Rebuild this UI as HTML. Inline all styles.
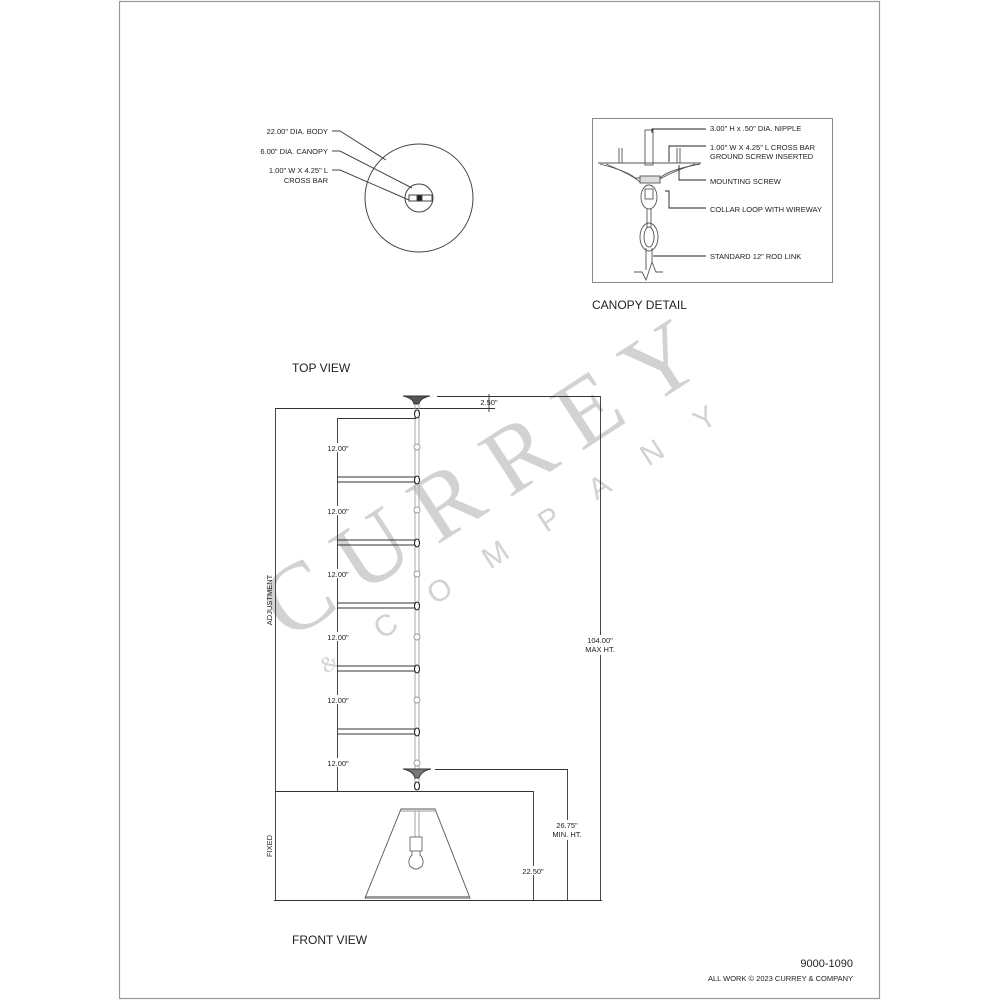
<!DOCTYPE html>
<html><head><meta charset="utf-8"><style>
html,body{margin:0;padding:0;background:#fff;}
svg{display:block;}
text{font-family:"Liberation Sans",sans-serif;fill:#222;}
</style></head><body>
<svg width="1000" height="1000" viewBox="0 0 1000 1000" xmlns="http://www.w3.org/2000/svg">
<rect x="0" y="0" width="1000" height="1000" fill="#fff"/>
<rect x="119.5" y="1.5" width="760" height="997" fill="none" stroke="#999" stroke-width="1.2"/>

<!-- watermark -->
<g>
<text x="0" y="0" transform="translate(288,642) rotate(-33)" style="font-family:'Liberation Serif',serif;font-size:96px;letter-spacing:22px;fill:#d2d2d2">CURREY</text>
<text x="0" y="0" transform="translate(382,640) rotate(-33)" style="font-family:'Liberation Sans',sans-serif;font-size:30px;letter-spacing:42px;fill:#d2d2d2">COMPANY</text>
<text x="0" y="0" transform="translate(326,674) rotate(-33)" style="font-family:'Liberation Serif',serif;font-size:22px;fill:#d2d2d2">&amp;</text>
</g>

<!-- TOP VIEW -->
<g stroke="#444" fill="none" stroke-width="1">
<circle cx="419" cy="198" r="54"/>
<circle cx="419" cy="198" r="14"/>
<rect x="409" y="195" width="23" height="6"/>
<rect x="417" y="195" width="5" height="6" fill="#222"/>
<polyline points="332,131 340,131 386,160"/>
<polyline points="332,151 340,151 412,188"/>
<polyline points="332,170 340,170 409,200"/>
</g>
<g font-size="7.5" text-anchor="end">
<text x="328" y="134">22.00" DIA. BODY</text>
<text x="328" y="154">6.00" DIA. CANOPY</text>
<text x="328" y="173">1.00" W X 4.25" L</text>
<text x="328" y="183">CROSS BAR</text>
</g>
<text x="292" y="372" font-size="12">TOP VIEW</text>

<!-- CANOPY DETAIL -->
<rect x="592.5" y="118.5" width="240" height="164" fill="none" stroke="#888" stroke-width="1"/>
<g stroke="#555" fill="none" stroke-width="0.9">
<rect x="645" y="130" width="8" height="35"/>
<line x1="598" y1="163" x2="701" y2="163"/>
<path d="M600,164 Q630,172 635,178 L660,178 Q668,170 700,164"/>
<path d="M606,164 Q632,175 640,182 L656,182 Q664,175 695,164"/>
<line x1="619" y1="148" x2="619" y2="163"/><line x1="622" y1="148" x2="622" y2="163"/>
<line x1="677" y1="148" x2="677" y2="163"/><line x1="680" y1="148" x2="680" y2="163"/>
<rect x="640" y="176" width="20" height="7" fill="#ddd"/>
<ellipse cx="649" cy="197" rx="8" ry="12"/>
<rect x="645" y="189" width="8" height="10"/>
<line x1="647" y1="209" x2="647" y2="228"/><line x1="651" y1="209" x2="651" y2="228"/>
<ellipse cx="649" cy="237" rx="9" ry="14"/>
<ellipse cx="649" cy="237" rx="5" ry="10"/>
<line x1="646" y1="248" x2="646" y2="270"/><line x1="652" y1="248" x2="652" y2="262"/>
<path d="M634,272 L642,272 L646,280 L652,262 L656,272 L663,272"/>
</g>
<g stroke="#222" fill="none" stroke-width="0.9">
<polyline points="652,133 652,129 706,129"/>
<polyline points="669,162 669,146 706,146"/>
<polyline points="679,165 679,180 706,180"/>
<polyline points="665,191 669,191 669,208 706,208"/>
<polyline points="653,256 706,256"/>
</g>
<g font-size="7.5">
<text x="710" y="131">3.00" H x .50" DIA. NIPPLE</text>
<text x="710" y="150">1.00" W X 4.25" L CROSS BAR</text>
<text x="710" y="159">GROUND SCREW INSERTED</text>
<text x="710" y="184">MOUNTING SCREW</text>
<text x="710" y="212">COLLAR LOOP WITH WIREWAY</text>
<text x="710" y="259">STANDARD 12" ROD LINK</text>
</g>
<text x="592" y="309" font-size="12">CANOPY DETAIL</text>

<!-- FRONT VIEW -->
<g stroke="#333" fill="none" stroke-width="0.9">
<path d="M403,396 L430,396 Q420,398 419,404 L414,404 Q413,398 403,396 Z" fill="#555"/>
<line x1="437" y1="396.5" x2="600" y2="396.5"/>
<line x1="275" y1="408.5" x2="495" y2="408.5"/>
<line x1="489" y1="394" x2="489" y2="412"/>
<line x1="275.5" y1="408" x2="275.5" y2="900"/>
<line x1="600.5" y1="396" x2="600.5" y2="900"/>
<line x1="274" y1="900.5" x2="602" y2="900.5"/>
<line x1="415" y1="404" x2="415" y2="790" stroke="#aaa" stroke-width="1"/>
<line x1="419" y1="404" x2="419" y2="790" stroke="#aaa" stroke-width="1"/>
<line x1="337.5" y1="418" x2="337.5" y2="791"/>
<line x1="337" y1="418.5" x2="416" y2="418.5"/>
<line x1="337" y1="477" x2="416" y2="477"/><line x1="337" y1="482" x2="416" y2="482"/>
<line x1="337" y1="540" x2="416" y2="540"/><line x1="337" y1="545" x2="416" y2="545"/>
<line x1="337" y1="603" x2="416" y2="603"/><line x1="337" y1="608" x2="416" y2="608"/>
<line x1="337" y1="666" x2="416" y2="666"/><line x1="337" y1="671" x2="416" y2="671"/>
<line x1="337" y1="729" x2="416" y2="729"/><line x1="337" y1="734" x2="416" y2="734"/>
<path d="M403,769 L431,769 Q421,771 419,778 L415,778 Q413,771 403,769 Z" fill="#777"/>
<line x1="435" y1="769.5" x2="567" y2="769.5"/>
<line x1="567.5" y1="769" x2="567.5" y2="900"/>
<line x1="275" y1="791.5" x2="533" y2="791.5"/>
<line x1="533.5" y1="791" x2="533.5" y2="900"/>
<path d="M401,809 L435,809 L470,898 L365,898 Z" stroke="#555"/>
<line x1="401" y1="811" x2="435" y2="811" stroke="#999"/>
<line x1="366" y1="897" x2="469" y2="897" stroke="#999" stroke-width="2"/>
<line x1="415" y1="811" x2="415" y2="837" stroke="#999"/>
<line x1="419" y1="811" x2="419" y2="837" stroke="#999"/>
<rect x="410" y="837" width="12" height="14" stroke="#666"/>
<path d="M412,851 L412,855 Q407,860 410,866 Q416,872 422,866 Q425,860 420,855 L420,851" stroke="#666"/>
</g>
<g stroke="#222" fill="#fff" stroke-width="1.1">
<ellipse cx="417" cy="414" rx="2.5" ry="4"/>
<ellipse cx="417" cy="480" rx="2.5" ry="4"/>
<ellipse cx="417" cy="543" rx="2.5" ry="4"/>
<ellipse cx="417" cy="606" rx="2.5" ry="4"/>
<ellipse cx="417" cy="669" rx="2.5" ry="4"/>
<ellipse cx="417" cy="732" rx="2.5" ry="4"/>
<ellipse cx="417" cy="786" rx="2.5" ry="4"/>
</g>
<g stroke="#999" fill="#fff" stroke-width="0.9">
<circle cx="417" cy="447" r="3"/>
<circle cx="417" cy="510" r="3"/>
<circle cx="417" cy="574" r="3"/>
<circle cx="417" cy="637" r="3"/>
<circle cx="417" cy="700" r="3"/>
<circle cx="417" cy="763" r="3"/>
</g>
<g font-size="7.5" text-anchor="middle">
<rect x="322" y="443" width="32" height="9" fill="#fff"/><text x="338" y="451">12.00"</text>
<rect x="322" y="506" width="32" height="9" fill="#fff"/><text x="338" y="514">12.00"</text>
<rect x="322" y="569" width="32" height="9" fill="#fff"/><text x="338" y="577">12.00"</text>
<rect x="322" y="632" width="32" height="9" fill="#fff"/><text x="338" y="640">12.00"</text>
<rect x="322" y="695" width="32" height="9" fill="#fff"/><text x="338" y="703">12.00"</text>
<rect x="322" y="758" width="32" height="9" fill="#fff"/><text x="338" y="766">12.00"</text>
<text x="489" y="405">2.50"</text>
<rect x="582" y="635" width="38" height="20" fill="#fff"/>
<text x="600" y="643">104.00"</text><text x="600" y="652">MAX HT.</text>
<rect x="550" y="820" width="36" height="20" fill="#fff"/>
<text x="567" y="828">26.75"</text><text x="567" y="837">MIN. HT.</text>
<rect x="518" y="866" width="32" height="9" fill="#fff"/>
<text x="533" y="874">22.50"</text>
<text transform="translate(272,600) rotate(-90)" font-size="7.5">ADJUSTMENT</text>
<text transform="translate(272,846) rotate(-90)" font-size="7.5">FIXED</text>
</g>
<text x="292" y="944" font-size="12">FRONT VIEW</text>
<text x="853" y="967" font-size="11" text-anchor="end">9000-1090</text>
<text x="853" y="981" font-size="7.5" text-anchor="end">ALL WORK © 2023 CURREY &amp; COMPANY</text>
</svg>
</body></html>
